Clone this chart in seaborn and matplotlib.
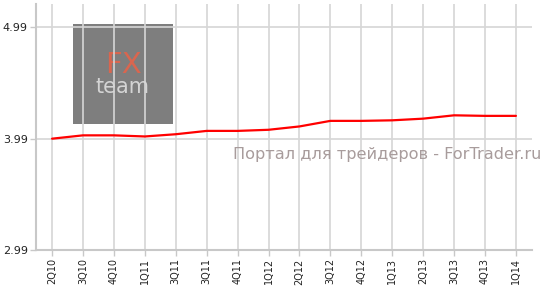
import matplotlib
matplotlib.use("Agg")
import matplotlib.pyplot as plt
import seaborn as sns
import pandas as pd
import numpy as np

quarters = ["2Q10", "3Q10", "4Q10", "1Q11", "3Q11", "3Q11", "4Q11", "1Q12",
            "2Q12", "3Q12", "4Q12", "1Q13", "2Q13", "3Q13", "4Q13", "1Q14"]
values = [3.99, 4.02, 4.02, 4.01, 4.03, 4.06, 4.06, 4.07,
          4.10, 4.15, 4.15, 4.155, 4.17, 4.20, 4.195, 4.195]
yticks = [2.99, 3.99, 4.99]

sns.set_style("white")
plt.rcParams['font.family'] = ['DejaVu Sans']

fig = plt.figure(figsize=(5.48, 2.88), dpi=100)
ax = fig.add_axes([36/548, 1-250/288, (532-36)/548, (250-4)/288])

df = pd.DataFrame({"pos": np.arange(len(quarters)), "value": values})
sns.lineplot(data=df, x="pos", y="value", ax=ax, color="#ff0000", linewidth=1.6, zorder=5)

ax.set_xlim(-0.52, 15.52)
ax.set_ylim(2.99, 5.2)
ax.set_xticks(np.arange(len(quarters)))
ax.set_xticklabels(quarters, rotation=90, fontsize=7, color="#222222")
ax.set_yticks(yticks)
ax.set_yticklabels([f"{v:.2f}" for v in yticks], fontsize=8, color="#222222")
ax.set_xlabel("")
ax.set_ylabel("")
ax.grid(True, color="#d6d6d6", linewidth=1.2, zorder=1)
for s in ["top", "right"]:
    ax.spines[s].set_visible(False)
for s in ["left", "bottom"]:
    ax.spines[s].set_color("#c8c8c8")
    ax.spines[s].set_linewidth(1.5)
ax.tick_params(axis="both", length=4, color="#c8c8c8", width=1, pad=2, left=True, bottom=True)

# logo (behind grid lines)
logo = plt.Rectangle((73/548, 1-124/288), 100/548, 100/288, transform=fig.transFigure,
                     facecolor="#777777", edgecolor="none", zorder=0.3, alpha=0.95)
logo.set_clip_on(False)
ax.add_patch(logo)
ax.text(123/548, 1-65/288, "FX", transform=fig.transFigure, ha="center", va="center",
        fontsize=21, color="#d9664f", zorder=0.4)
ax.text(122/548, 1-87/288, "team", transform=fig.transFigure, ha="center", va="center",
        fontsize=15, color="#d4d4d4", zorder=0.4)

fig.text(541/548, 1-155/288, "Портал для трейдеров - ForTrader.ru", ha="right", va="center",
         fontsize=11.6, color="#a89c9c", zorder=6)

fig.savefig("out.png", dpi=100)
